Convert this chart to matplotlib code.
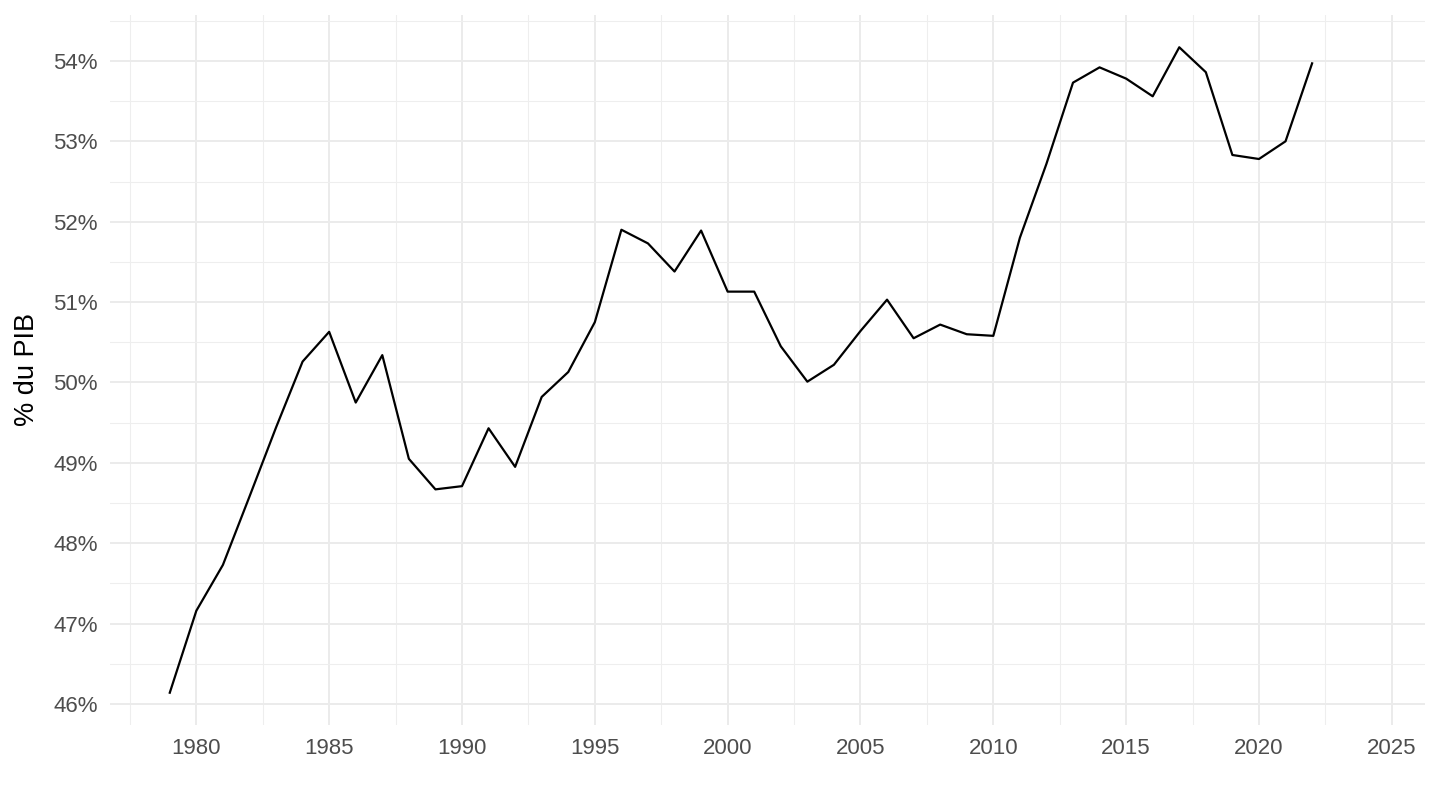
import matplotlib
matplotlib.use("Agg")
import matplotlib.pyplot as plt
from matplotlib.ticker import MultipleLocator, FuncFormatter

plt.rcParams['font.family'] = ['Liberation Sans', 'DejaVu Sans']

# donnees (% du PIB)
annees = list(range(1979, 2023))
valeurs = [46.14, 47.16, 47.73, 48.58, 49.44, 50.26, 50.63, 49.75, 50.34, 49.05,
           48.67, 48.71, 49.43, 48.95, 49.82, 50.13, 50.75, 51.90, 51.73, 51.38,
           51.89, 51.13, 51.13, 50.45, 50.01, 50.22, 50.64, 51.03, 50.55, 50.72,
           50.60, 50.58, 51.80, 52.72, 53.73, 53.92, 53.78, 53.56, 54.17, 53.86,
           52.83, 52.78, 53.00, 53.97]

ylabel = "% du PIB"

fig = plt.figure(figsize=(14.4, 8.1), dpi=100)
ax = fig.add_axes([110 / 1440, 1 - 725 / 810, (1425 - 110) / 1440, (725 - 15) / 810])

ax.plot(annees, valeurs, color='black', linewidth=1.6, zorder=3)

# limites facon ggplot (expansion 5%)
xmin, xmax = 1979, 2024
dx = (xmax - xmin) * 0.05
ax.set_xlim(xmin - dx, xmax + dx)
ymin, ymax = min(valeurs), max(valeurs)
dy = (ymax - ymin) * 0.05
ax.set_ylim(ymin - dy, ymax + dy)

ax.xaxis.set_major_locator(MultipleLocator(5))
ax.xaxis.set_minor_locator(MultipleLocator(2.5))
ax.yaxis.set_major_locator(MultipleLocator(1))
ax.yaxis.set_minor_locator(MultipleLocator(0.5))
ax.yaxis.set_major_formatter(FuncFormatter(lambda v, p: f"{v:.0f}%"))
ax.xaxis.set_major_formatter(FuncFormatter(lambda v, p: f"{v:.0f}"))

# cuadricula estilo theme_minimal
ax.grid(True, which='major', color='#EBEBEB', linewidth=1.4, zorder=0)
ax.grid(True, which='minor', color='#EEEEEE', linewidth=0.8, zorder=0)
ax.set_axisbelow(True)

for s in ax.spines.values():
    s.set_visible(False)

ax.tick_params(which='both', length=0)
ax.tick_params(axis='x', labelsize=16, labelcolor='#4D4D4D', pad=9)
ax.tick_params(axis='y', labelsize=16, labelcolor='#4D4D4D', pad=9)

ax.set_ylabel(ylabel, fontsize=19.5, color='black', labelpad=9)

fig.savefig("out.png", dpi=100, facecolor='white')
